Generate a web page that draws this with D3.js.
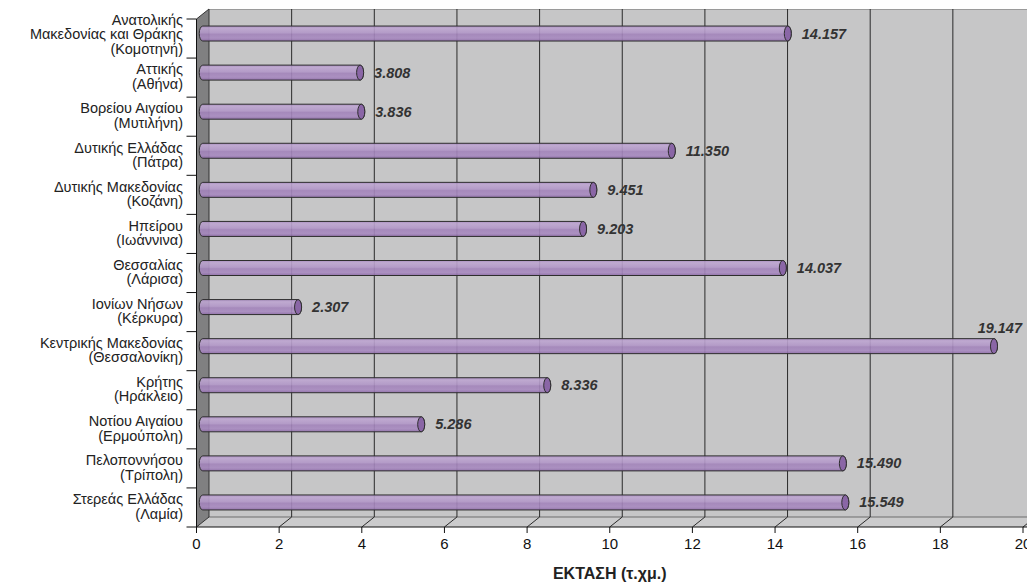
<!DOCTYPE html>
<html>
<head>
<meta charset="utf-8">
<script src="https://d3js.org/d3.v7.min.js"></script>
<style type="text/css">
  body {
    margin: 0;
    background: #fff;
    font-family: "Liberation Sans", Helvetica, Arial, sans-serif;
  }
  svg { display: block; }
</style>
</head>
<body>
<script type="text/javascript">

var regions = [
  "Ανατολικής\nΜακεδονίας και Θράκης\n(Κομοτηνή)",
  "Αττικής\n(Αθήνα)",
  "Βορείου Αιγαίου\n(Μυτιλήνη)",
  "Δυτικής Ελλάδας\n(Πάτρα)",
  "Δυτικής Μακεδονίας\n(Κοζάνη)",
  "Ηπείρου\n(Ιωάννινα)",
  "Θεσσαλίας\n(Λάρισα)",
  "Ιονίων Νήσων\n(Κέρκυρα)",
  "Κεντρικής Μακεδονίας\n(Θεσσαλονίκη)",
  "Κρήτης\n(Ηράκλειο)",
  "Νοτίου Αιγαίου\n(Ερμούπολη)",
  "Πελοποννήσου\n(Τρίπολη)",
  "Στερεάς Ελλάδας\n(Λαμία)"
];
var area = [14.157, 3.808, 3.836, 11.350, 9.451, 9.203, 14.037, 2.307, 19.147, 8.336, 5.286, 15.490, 15.549];
var xTicks = [0, 2, 4, 6, 8, 10, 12, 14, 16, 18, 20];
var xTitle = "ΕΚΤΑΣΗ (τ.χμ.)";

var width = 1027, height = 584;
var dx = 12.5, dy = -10;   // 3d depth offset

var svg = d3.select("body").append("svg")
    .attr("width", width)
    .attr("height", height);

var x = d3.scaleLinear().domain([0, 20]).range([196.5, 1023]);
var y = d3.scaleBand().domain(regions).range([19, 527]);

var yTop = y.range()[0], yBot = y.range()[1];
var x0 = x(0), x1 = x(20);

// bar gradient
var grad = svg.append("defs").append("linearGradient")
    .attr("id", "barGrad")
    .attr("x1", 0).attr("y1", 0).attr("x2", 0).attr("y2", 1);
[[0, "#a98bc1"], [0.15, "#bea6d1"], [0.45, "#b297c8"], [0.55, "#a283ba"], [0.8, "#a88ac0"], [1, "#8e6ca8"]]
  .forEach(function(s) {
    grad.append("stop").attr("offset", s[0]).attr("stop-color", s[1]);
  });

// back wall
svg.append("rect")
    .attr("x", x0 + dx)
    .attr("y", yTop + dy)
    .attr("width", x1 - x0 + 40)
    .attr("height", yBot - yTop)
    .attr("fill", "#c6c6c7");
svg.append("line")
    .attr("x1", x0 + dx).attr("x2", width)
    .attr("y1", yTop + dy + 0.5).attr("y2", yTop + dy + 0.5)
    .attr("stroke", "#9a9a9a");

// floor
svg.append("path")
    .attr("d", "M" + x0 + "," + yBot + "L" + (x0 + dx) + "," + (yBot + dy) +
               "L" + (x1 + dx + 20) + "," + (yBot + dy) + "L" + (x1 + 20) + "," + yBot + "Z")
    .attr("fill", "#cbcbcc");
svg.append("line")
    .attr("x1", x0 + dx).attr("x2", width)
    .attr("y1", yBot + dy).attr("y2", yBot + dy)
    .attr("stroke", "#555").attr("stroke-width", 0.8);

// grid lines on wall and floor
svg.selectAll(".grid")
    .data(xTicks.slice(1))
  .enter().append("path")
    .attr("class", "grid")
    .attr("d", function(d) {
      return "M" + (x(d) + dx) + "," + (yTop + dy) + "L" + (x(d) + dx) + "," + (yBot + dy) +
             "L" + x(d) + "," + yBot;
    })
    .attr("fill", "none")
    .attr("stroke", "#2a2a2a")
    .attr("stroke-width", 1);

// side wall
svg.append("path")
    .attr("d", "M" + x0 + "," + yTop + "L" + (x0 + dx) + "," + (yTop + dy) +
               "L" + (x0 + dx) + "," + (yBot + dy) + "L" + x0 + "," + yBot + "Z")
    .attr("fill", "#808081")
    .attr("stroke", "#333")
    .attr("stroke-width", 1);

// bars (cylinders)
var barH = 15, rx = 3.5;
var bars = svg.selectAll(".bar")
    .data(area)
  .enter().append("g")
    .attr("class", "bar");

function cy(d, i) { return y(regions[i]) + y.bandwidth() / 2 + dy / 2; }

bars.append("path")
    .attr("d", function(d, i) {
      var a = x0 + dx / 2, b = x(d) + dx / 2, t = cy(d, i) - barH / 2, u = cy(d, i) + barH / 2;
      return "M" + a + "," + t + "L" + b + "," + t +
             "A" + rx + "," + (barH / 2) + " 0 0 1 " + b + "," + u +
             "L" + a + "," + u +
             "A" + rx + "," + (barH / 2) + " 0 0 1 " + a + "," + t + "Z";
    })
    .attr("fill", "url(#barGrad)")
    .attr("fill-opacity", 0.9)
    .attr("stroke", "#2e2e2e")
    .attr("stroke-width", 1);

bars.append("ellipse")
    .attr("cx", function(d) { return x(d) + dx / 2; })
    .attr("cy", cy)
    .attr("rx", rx)
    .attr("ry", barH / 2)
    .attr("fill", "#8a66a6")
    .attr("stroke", "#2e2e2e")
    .attr("stroke-width", 1);

// value labels
var fmt = d3.format(".3f");
function tooFar(d) { return x(d) + dx / 2 + 70 > width; }
bars.append("text")
    .attr("x", function(d) { return tooFar(d) ? width - 5 : x(d) + dx / 2 + 14; })
    .attr("y", function(d, i) { return tooFar(d) ? cy(d, i) - 13 : cy(d, i) + 5; })
    .attr("text-anchor", function(d) { return tooFar(d) ? "end" : "start"; })
    .attr("font-size", "14.5px")
    .attr("font-weight", "bold")
    .attr("font-style", "italic")
    .attr("fill", "#333")
    .text(function(d) { return fmt(d); });

// left axis: line and category ticks
svg.append("line")
    .attr("x1", x0).attr("x2", x0)
    .attr("y1", yTop).attr("y2", yBot)
    .attr("stroke", "#111");
svg.selectAll(".ctick")
    .data(d3.range(regions.length))
  .enter().append("line")
    .attr("class", "ctick")
    .attr("x1", x0 - 10).attr("x2", x0)
    .attr("y1", function(i) { return y(regions[i]); })
    .attr("y2", function(i) { return y(regions[i]); })
    .attr("stroke", "#111");

// category labels
svg.selectAll(".clabel")
    .data(regions)
  .enter().append("text")
    .attr("class", "clabel")
    .attr("text-anchor", "end")
    .attr("font-size", "14.5px")
    .attr("fill", "#222")
    .each(function(d) {
      var lines = d.split("\n");
      var c = y(d) + y.bandwidth() / 2 - 1 - (lines.length - 2) * 3.5;
      var t = d3.select(this);
      lines.forEach(function(l, k) {
        t.append("tspan")
          .attr("x", 183)
          .attr("y", c + (k - (lines.length - 1) / 2) * 14.5 + 5)
          .text(l);
      });
    });

// bottom axis
svg.append("line")
    .attr("x1", x0 - 10).attr("x2", width)
    .attr("y1", yBot).attr("y2", yBot)
    .attr("stroke", "#111");
svg.selectAll(".xtick")
    .data(xTicks)
  .enter().append("line")
    .attr("class", "xtick")
    .attr("x1", function(d) { return x(d); })
    .attr("x2", function(d) { return x(d); })
    .attr("y1", yBot).attr("y2", yBot + 6)
    .attr("stroke", "#111");
svg.selectAll(".xlabel")
    .data(xTicks)
  .enter().append("text")
    .attr("class", "xlabel")
    .attr("x", function(d) { return x(d); })
    .attr("y", 549)
    .attr("text-anchor", "middle")
    .attr("font-size", "15px")
    .attr("fill", "#111")
    .text(function(d) { return d; });

svg.append("text")
    .attr("x", (x0 + x1) / 2)
    .attr("y", 579)
    .attr("text-anchor", "middle")
    .attr("font-size", "16px")
    .attr("font-weight", "bold")
    .attr("fill", "#222")
    .text(xTitle);

</script>
</body>
</html>
